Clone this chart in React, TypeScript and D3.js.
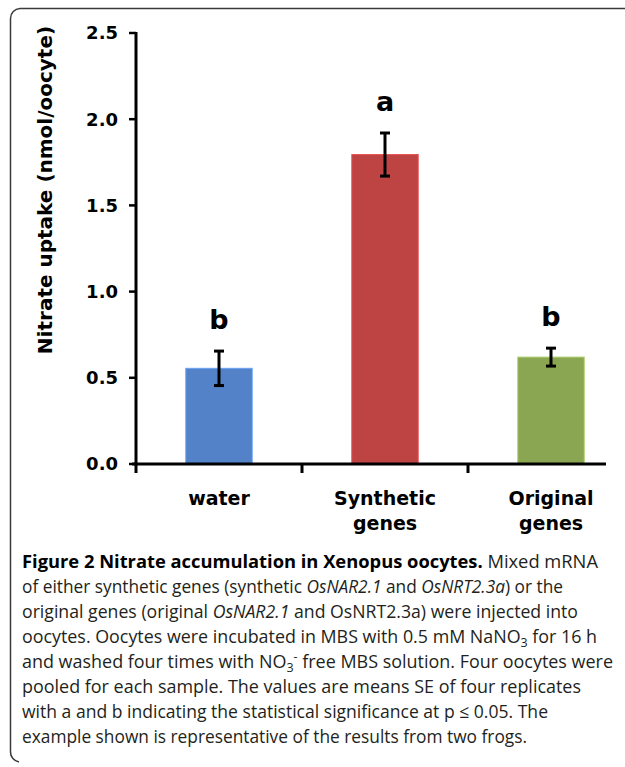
import React from "react";
import * as d3 from "d3";

const categories = ["water", "Synthetic genes", "Original genes"];
const labelLines = [["water"], ["Synthetic", "genes"], ["Original", "genes"]];
const means = [0.555, 1.795, 0.62];
const errors = [0.1, 0.125, 0.052];
const letters = ["b", "a", "b"];
const barColors = ["#5382C8", "#BE4343", "#8BA652"];
const yTicks = [0, 0.5, 1.0, 1.5, 2.0, 2.5];
const yLabel = "Nitrate uptake (nmol/oocyte)";

type Seg = { t: string; b?: boolean; i?: boolean; sub?: boolean; sup?: boolean };
const captionLines: Seg[][] = [
  [{ t: "Figure 2 Nitrate accumulation in Xenopus oocytes.", b: true }, { t: " Mixed mRNA" }],
  [{ t: "of either synthetic genes (synthetic " }, { t: "OsNAR2.1", i: true }, { t: " and " }, { t: "OsNRT2.3a", i: true }, { t: ") or the" }],
  [{ t: "original genes (original " }, { t: "OsNAR2.1", i: true }, { t: " and OsNRT2.3a) were injected into" }],
  [{ t: "oocytes. Oocytes were incubated in MBS with 0.5 mM NaNO" }, { t: "3", sub: true }, { t: " for 16 h" }],
  [{ t: "and washed four times with NO" }, { t: "3", sub: true }, { t: "-", sup: true }, { t: " free MBS solution. Four oocytes were" }],
  [{ t: "pooled for each sample. The values are means SE of four replicates" }],
  [{ t: "with a and b indicating the statistical significance at p \u2264 0.05. The" }],
  [{ t: "example shown is representative of the results from two frogs." }],
];
const captionWidths = [576, 541, 556, 575, 591, 559, 526, 505];

const W = 625;
const H = 767;
const axisFont = "'DejaVu Sans', Verdana, sans-serif";
const capFont = "'Open Sans', 'Noto Sans', sans-serif";

export default function App() {
  const x = d3.scaleBand<string>().domain(categories).range([136, 634]).paddingInner(0.6).paddingOuter(0.3);
  const y = d3.scaleLinear().domain([0, 2.5]).range([464, 33]);
  const step = x.step();
  const boundaries = [0, 1, 2].map((i) => 136 + i * step);

  return (
    <svg width={W} height={H} style={{ position: "absolute", left: 0, top: 0, background: "#fff" }}>
      <path d={`M ${W} 8.5 H 20 A 10 10 0 0 0 10.5 18.5 V 752 A 10 10 0 0 0 19 762`} fill="none" stroke="#3a3a3a" strokeWidth={1.5} />

      {categories.map((c, i) => (
        <rect key={c} x={x(c)!} y={y(means[i])} width={x.bandwidth()} height={y(0) - y(means[i])} fill={barColors[i]} stroke={d3.color(barColors[i])!.brighter(0.6).toString()} strokeWidth={1} />
      ))}

      {categories.map((c, i) => {
        const cx = x(c)! + x.bandwidth() / 2;
        const yt = y(means[i] + errors[i]);
        const yb = y(means[i] - errors[i]);
        return (
          <g key={c} stroke="#000" strokeWidth={3}>
            <line x1={cx} x2={cx} y1={yt} y2={yb} />
            <line x1={cx - 5} x2={cx + 5} y1={yt} y2={yt} />
            <line x1={cx - 5} x2={cx + 5} y1={yb} y2={yb} />
          </g>
        );
      })}

      {categories.map((c, i) => (
        <text key={c} x={x(c)! + x.bandwidth() / 2} y={y(means[i] + errors[i]) - 22} textAnchor="middle" fontFamily={axisFont} fontWeight="bold" fontSize={27} fill="#000">
          {letters[i]}
        </text>
      ))}

      <line x1={136} x2={136} y1={y(2.5) - 1} y2={473} stroke="#000" strokeWidth={3} />
      {yTicks.map((t) => (
        <g key={t}>
          <line x1={129} x2={136} y1={y(t)} y2={y(t)} stroke="#000" strokeWidth={2.5} />
          <text x={118} y={y(t)} dy="0.36em" textAnchor="end" fontFamily={axisFont} fontWeight="bold" fontSize={18} fill="#000">
            {t.toFixed(1)}
          </text>
        </g>
      ))}

      <line x1={132} x2={606} y1={y(0)} y2={y(0)} stroke="#000" strokeWidth={3} />
      {boundaries.slice(1).map((b) => (
        <line key={b} x1={b} x2={b} y1={y(0)} y2={473} stroke="#000" strokeWidth={3} />
      ))}
      {categories.map((c, i) => (
        <text key={c} x={x(c)! + x.bandwidth() / 2} y={505} textAnchor="middle" fontFamily={axisFont} fontWeight="bold" fontSize={19} fill="#000">
          {labelLines[i].map((l, j) => (
            <tspan key={j} x={x(c)! + x.bandwidth() / 2} dy={j === 0 ? 0 : 25}>
              {l}
            </tspan>
          ))}
        </text>
      ))}

      <text transform={`translate(52, 190) rotate(-90)`} textAnchor="middle" fontFamily={axisFont} fontWeight="bold" fontSize={20} fill="#000">
        {yLabel}
      </text>

      {captionLines.map((segs, i) => (
        <text key={i} x={22} y={568 + i * 25} fontFamily={capFont} fontSize={18} fill="#231f20" textLength={captionWidths[i]} lengthAdjust="spacingAndGlyphs">
          {segs.map((s, j) => (
            <tspan key={j} fontWeight={s.b ? "bold" : "normal"} fontStyle={s.i ? "italic" : "normal"} fontSize={s.sub || s.sup ? 12.5 : undefined} baselineShift={s.sub ? "-4" : s.sup ? "7" : undefined} fill={s.b ? "#000" : undefined}>
              {s.t}
            </tspan>
          ))}
        </text>
      ))}
    </svg>
  );
}
